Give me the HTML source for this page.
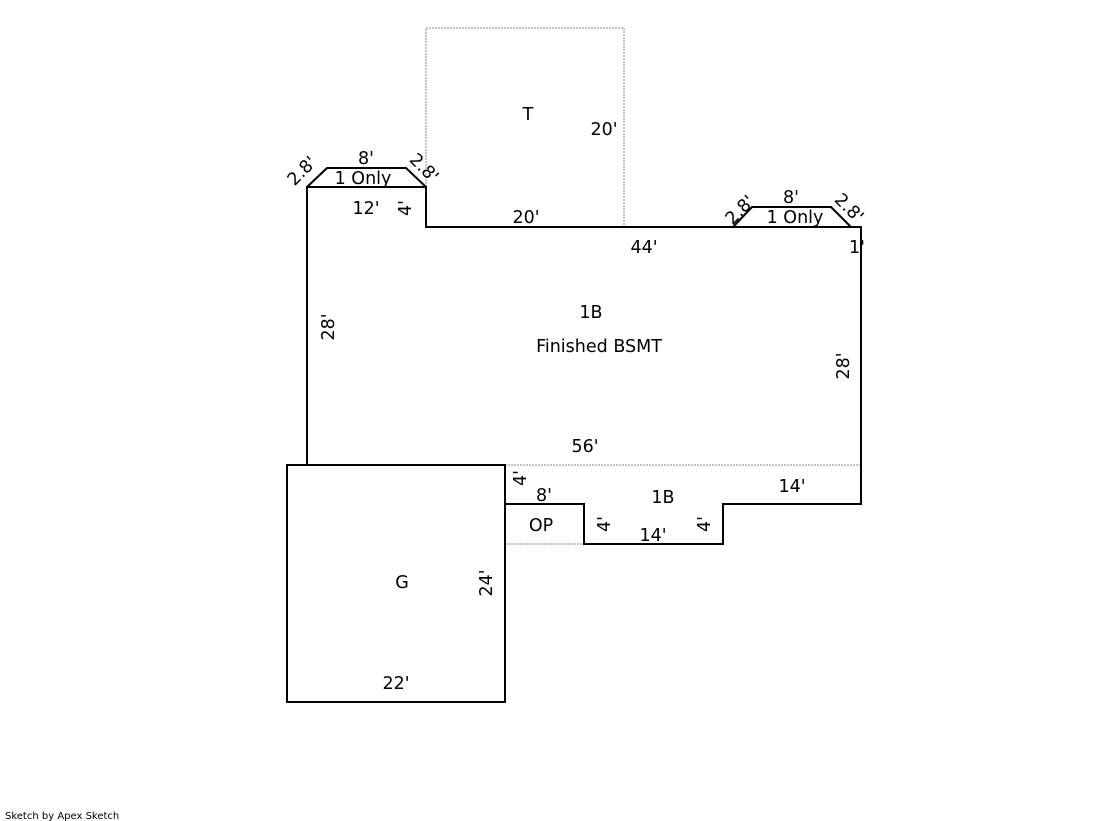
<!DOCTYPE html>
<html><head><style>body{margin:0;background:#fff}svg{display:block}text{font-family:"DejaVu Sans","Liberation Sans",sans-serif;font-size:17.5px;fill:#000}</style></head><body>
<svg width="1119" height="821" xmlns="http://www.w3.org/2000/svg">
<g fill="none" stroke="#888" stroke-width="1" stroke-dasharray="2,1">
<polyline points="426,187 426,28 624,28 624,227"/>
<line x1="505" y1="465" x2="861" y2="465"/>
<line x1="505" y1="544" x2="584" y2="544"/>
</g>
<g fill="none" stroke="#000" stroke-width="2">
<polyline points="307,465 307,187 426,187 426,227 861,227 861,504 723,504 723,544 584,544 584,504 505,504"/>
<polyline points="307,187 327,168 406,168 426,187"/>
<polyline points="733,227 752,207 831,207 851,227"/>
<rect x="287" y="465" width="218" height="237"/>
</g>
<text x="528" y="120" text-anchor="middle">T</text>
<text x="604" y="135" text-anchor="middle">20'</text>
<text x="366" y="164" text-anchor="middle">8'</text>
<text x="363" y="184" text-anchor="middle">1 Only</text>
<text x="366" y="214" text-anchor="middle">12'</text>
<text x="526" y="223" text-anchor="middle">20'</text>
<text x="644" y="253" text-anchor="middle">44'</text>
<text x="791" y="203" text-anchor="middle">8'</text>
<text x="795" y="223" text-anchor="middle">1 Only</text>
<text x="857" y="253" text-anchor="middle">1'</text>
<text x="591" y="318" text-anchor="middle">1B</text>
<text x="599" y="352" text-anchor="middle">Finished BSMT</text>
<text x="585" y="452" text-anchor="middle">56'</text>
<text x="792" y="492" text-anchor="middle">14'</text>
<text x="544" y="501" text-anchor="middle">8'</text>
<text x="663" y="503" text-anchor="middle">1B</text>
<text x="541" y="531" text-anchor="middle">OP</text>
<text x="653" y="541" text-anchor="middle">14'</text>
<text x="402" y="588" text-anchor="middle">G</text>
<text x="396" y="689" text-anchor="middle">22'</text>
<text transform="translate(334,327) rotate(-90)" text-anchor="middle">28'</text>
<text transform="translate(849,366) rotate(-90)" text-anchor="middle">28'</text>
<text transform="translate(492,583) rotate(-90)" text-anchor="middle">24'</text>
<text transform="translate(526,478) rotate(-90)" text-anchor="middle">4'</text>
<text transform="translate(610,524) rotate(-90)" text-anchor="middle">4'</text>
<text transform="translate(710,524) rotate(-90)" text-anchor="middle">4'</text>
<text transform="translate(411,208) rotate(-90)" text-anchor="middle">4'</text>
<text transform="translate(306,175) rotate(-45)" text-anchor="middle">2.8'</text>
<text transform="translate(420,172) rotate(45)" text-anchor="middle">2.8'</text>
<text transform="translate(744,214) rotate(-45)" text-anchor="middle">2.8'</text>
<text transform="translate(845,212) rotate(45)" text-anchor="middle">2.8'</text>
<text x="5" y="819" style="font-size:10px">Sketch by Apex Sketch</text>
</svg>
</body></html>
